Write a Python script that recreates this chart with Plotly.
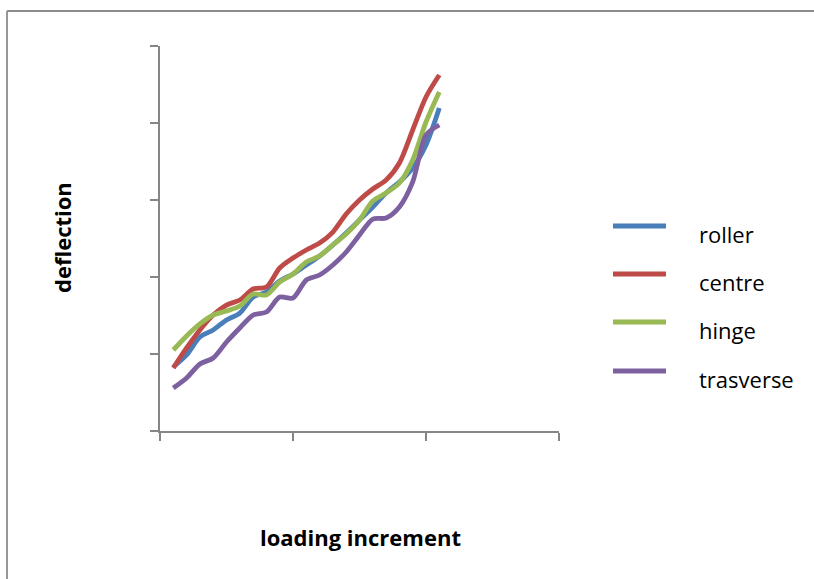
import plotly.graph_objects as go

loading = list(range(1, 22))
roller = [8.31, 9.87, 12.21, 13.12, 14.42, 15.32, 17.40, 18.05, 19.48, 20.39, 21.56,
          22.73, 24.16, 25.71, 27.40, 29.09, 30.91, 32.34, 34.16, 37.14, 41.95]
centre = [8.18, 10.78, 13.12, 15.06, 16.36, 17.01, 18.44, 18.70, 21.17, 22.47, 23.51,
          24.42, 25.84, 28.18, 30.00, 31.43, 32.60, 34.81, 39.09, 43.38, 46.23]
hinge = [10.52, 12.34, 13.90, 15.06, 15.58, 16.23, 17.79, 17.66, 19.35, 20.39, 21.95,
         22.73, 24.16, 25.58, 27.40, 29.87, 30.91, 32.21, 35.19, 40.13, 44.03]
trasverse = [5.58, 6.88, 8.70, 9.48, 11.56, 13.38, 15.06, 15.45, 17.40, 17.27, 19.61,
             20.26, 21.56, 23.25, 25.45, 27.53, 27.66, 29.09, 32.34, 38.44, 39.74]

series = [("roller", roller, "#4A7EBB"), ("centre", centre, "#BE4B48"),
          ("hinge", hinge, "#98B954"), ("trasverse", trasverse, "#7D60A0")]

x_ticks = [0, 10, 20, 30]
y_ticks = [0, 10, 20, 30, 40, 50]

# plot-area geometry in pixels (for converting layout positions to paper coords)
L, R, T, B = 160, 559, 46, 431
def px(x):
    return (x - L) / (R - L)
def py(y):
    return (B - y) / (B - T)

fig = go.Figure()
for name, vals, col in series:
    fig.add_trace(go.Scatter(x=loading, y=vals, mode="lines", name=name,
                             showlegend=False,
                             line=dict(color=col, width=4.8, shape="spline", smoothing=0.8)))

axis_col = "#868686"
fig.update_layout(
    width=814, height=579,
    margin=dict(l=L, r=814 - R, t=T, b=579 - B),
    paper_bgcolor="white", plot_bgcolor="white",
    font=dict(family="Open Sans, Noto Sans, sans-serif", color="black"),
    xaxis=dict(range=[0, 30], tickvals=x_ticks, showticklabels=False, ticks="outside",
               ticklen=8, tickcolor=axis_col, tickwidth=1.5, showline=True, linecolor=axis_col,
               linewidth=1.5, showgrid=False, zeroline=False),
    yaxis=dict(range=[0, 50], tickvals=y_ticks, showticklabels=False, ticks="outside",
               ticklen=8, tickcolor=axis_col, tickwidth=1.5, showline=True, linecolor=axis_col,
               linewidth=1.5, showgrid=False, zeroline=False),
    showlegend=False,
)

# legend (drawn as shapes + text to match the reference's long line samples)
leg_y = [226, 274, 322, 371]
for (name, vals, col), ly in zip(series, leg_y):
    fig.add_shape(type="line", xref="paper", yref="paper",
                  x0=px(613), x1=px(666), y0=py(ly), y1=py(ly),
                  line=dict(color=col, width=4.8))
    fig.add_annotation(text=name, xref="paper", yref="paper", x=px(697), y=py(ly + 8),
                       showarrow=False, xanchor="left", yanchor="middle",
                       font=dict(size=22, family="Open Sans, sans-serif", color="black"))

fig.add_annotation(text="<b>deflection</b>", xref="paper", yref="paper", x=px(62), y=py(238),
                   textangle=-90, showarrow=False, font=dict(size=22), xanchor="center", yanchor="middle")
fig.add_annotation(text="<b>loading increment</b>", xref="paper", yref="paper", x=px(360), y=py(537),
                   showarrow=False, font=dict(size=22), xanchor="center", yanchor="middle")

# chart area border (top and left edges visible)
border = dict(color="#8C8C8C", width=1.8)
fig.add_shape(type="line", xref="paper", yref="paper", x0=px(7), x1=px(814), y0=py(11), y1=py(11),
              line=border, layer="below")
fig.add_shape(type="line", xref="paper", yref="paper", x0=px(7), x1=px(7), y0=py(11), y1=py(579),
              line=border, layer="below")

fig.write_html("out.html")
